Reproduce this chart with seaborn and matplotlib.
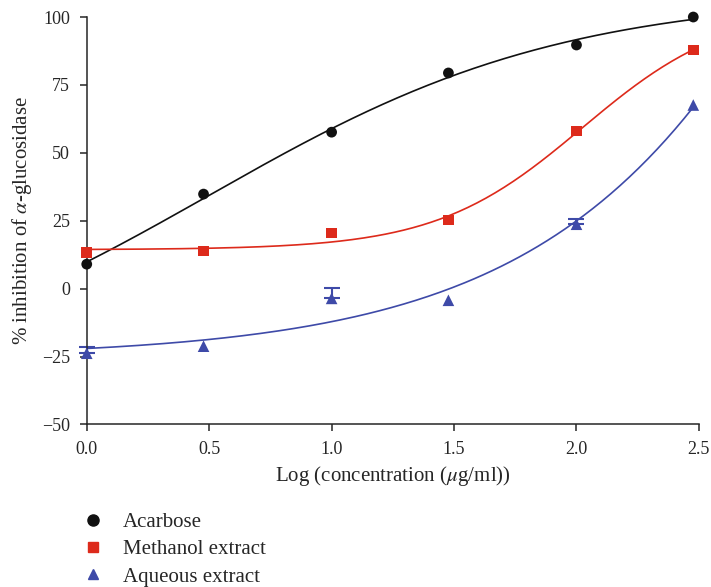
import seaborn as sns
import matplotlib.pyplot as plt
import pandas as pd
import numpy as np
from matplotlib.lines import Line2D

# DATA
log_conc = [0.0, 0.477, 1.0, 1.477, 2.0, 2.477]
acarbose = [9.0, 34.8, 57.6, 79.4, 89.7, 100.0]
methanol = [13.4, 13.8, 20.4, 25.2, 58.0, 87.8]
aqueous = [-23.8, -21.2, -3.6, -4.3, 23.7, 67.6]
aqueous_err_up = [2.2, 0.0, 3.7, 0.0, 1.8, 0.0]

series_names = ['Acarbose', 'Methanol extract', 'Aqueous extract']
colors = ['#111111', '#dd2a1b', '#3e4aa8']
markers = ['o', 's', '^']
marker_sizes = [60, 58, 70]


def fit_logistic(x, y):
    # 4-parameter logistic: grid over EC50 and slope, linear solve for bottom/top
    x = np.asarray(x)
    y = np.asarray(y)
    best = None
    for c in np.linspace(0.5, 4.0, 141):
        for h in np.linspace(0.2, 3.0, 113):
            s = 1.0 / (1.0 + 10 ** ((c - x) * h))
            A = np.column_stack([1 - s, s])
            coef, *_ = np.linalg.lstsq(A, y, rcond=None)
            err = np.sum((A @ coef - y) ** 2)
            if best is None or err < best[0]:
                best = (err, c, h, coef)
    _, c, h, (b, t) = best
    return lambda xx: b + (t - b) / (1.0 + 10 ** ((c - xx) * h))


df = pd.DataFrame({
    'x': log_conc * 3,
    'y': acarbose + methanol + aqueous,
    'group': np.repeat(series_names, len(log_conc)),
})

# VISUALIZATION
sns.set_style('ticks')
plt.rcParams['font.family'] = ['Liberation Serif', 'DejaVu Serif']
plt.rcParams['mathtext.fontset'] = 'stix'

fig = plt.figure(figsize=(7.11, 5.87), dpi=100)
ax = fig.add_axes([0.122, 0.277, 0.861, 0.694])

xs = np.linspace(0, 2.477, 200)
for name, col in zip(series_names, colors):
    sub = df[df['group'] == name]
    f = fit_logistic(sub['x'], sub['y'])
    sns.lineplot(x=xs, y=f(xs), color=col, linewidth=1.2, ax=ax)

# one-sided error bars, only where an error was shown
err_x = [x for x, e in zip(log_conc, aqueous_err_up) if e > 0]
err_y = [y for y, e in zip(aqueous, aqueous_err_up) if e > 0]
err_v = [e for e in aqueous_err_up if e > 0]
ax.errorbar(err_x, err_y, yerr=[np.zeros(len(err_v)), err_v],
            fmt='none', ecolor=colors[2], elinewidth=1.5, capsize=6, capthick=1.5,
            clip_on=False)

for name, col, m, s in zip(series_names, colors, markers, marker_sizes):
    sub = df[df['group'] == name]
    sns.scatterplot(x=sub['x'], y=sub['y'], color=col, marker=m, s=s,
                    edgecolor='none', legend=False, ax=ax, clip_on=False, zorder=5)

ax.set_xlim(0, 2.5)
ax.set_ylim(-50, 100)
ax.set_xticks([0, 0.5, 1.0, 1.5, 2.0, 2.5])
ax.set_xticklabels(['0.0', '0.5', '1.0', '1.5', '2.0', '2.5'])
ax.set_yticks([-50, -25, 0, 25, 50, 75, 100])
ax.set_yticklabels(['\u221250', '\u221225', '0', '25', '50', '75', '100'])
ax.tick_params(labelsize=13, length=5, width=1.1, direction='out', pad=7)
for sp in ['left', 'bottom']:
    ax.spines[sp].set_linewidth(1.1)
sns.despine(ax=ax)

ax.set_xlabel(r'Log (concentration ($\mu$g/ml))', fontsize=15, labelpad=4)
ax.set_ylabel(r'% inhibition of $\alpha$-glucosidase', fontsize=15, labelpad=6)

handles = [Line2D([], [], linestyle='none', marker=m, color=c, markersize=ms)
           for m, c, ms in zip(markers, colors, [8, 7.5, 6.5])]
fig.legend(handles, series_names, loc='upper left', bbox_to_anchor=(0.105, 0.141),
           frameon=False, fontsize=15, handletextpad=0.9, labelspacing=0.37,
           handlelength=1.0, borderaxespad=0)

fig.savefig('out.png', dpi=100)
